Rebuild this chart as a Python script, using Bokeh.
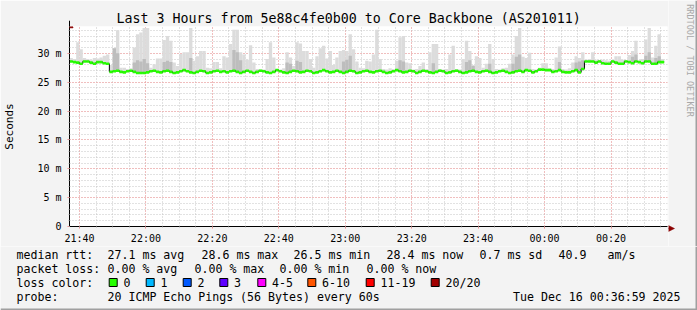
import math
from bokeh.plotting import figure
from bokeh.models import Range1d, FixedTicker, Arrow, NormalHead
from bokeh.layouts import column, row
from bokeh.embed import file_html
from bokeh.resources import INLINE
from bokeh.core.properties import value

# ---------------- data ----------------
title_text = "Last 3 Hours from 5e88c4fe0b00 to Core Backbone (AS201011)"
x_tick_labels = ["21:40", "22:00", "22:20", "22:40", "23:00", "23:20", "23:40", "00:00", "00:20"]
x_tick_minutes = [3, 23, 43, 63, 83, 103, 123, 143, 163]   # minutes after 21:37
y_tick_values = [0, 5, 10, 15, 20, 25, 30]
y_tick_labels = ["0", "5 m", "10 m", "15 m", "20 m", "25 m", "30 m"]

median_rtt = [
    28.6, 28.5, 28.4, 28.2, 28.6, 28.6, 28.4, 28.2, 28.5, 28.5, 28.3, 28.2,
    26.8, 26.9, 27.0, 26.8, 26.7, 26.9, 27.0, 26.8, 26.6, 26.6, 26.6, 26.7,
    26.9, 27.0, 26.8, 26.7, 26.9, 27.0, 26.8, 26.6, 26.7, 26.9, 27.1, 26.9,
    26.7, 26.6, 26.8, 27.0, 26.9, 26.6, 26.7, 26.9, 27.0, 26.8, 26.9, 26.7,
    26.9, 27.0, 26.8, 26.6, 26.8, 27.0, 26.8, 26.6, 26.8, 27.0, 26.9, 26.7,
    26.6, 26.8, 27.1, 26.9, 26.7, 26.6, 26.8, 27.0, 26.9, 26.7, 26.8, 27.0,
    26.9, 26.6, 26.7, 26.9, 27.1, 26.9, 26.7, 26.8, 27.0, 26.8, 26.6, 26.8,
    27.0, 26.9, 26.6, 26.7, 26.9, 27.0, 26.8, 26.7, 26.9, 27.0, 26.8, 26.6,
    26.7, 26.9, 27.1, 26.9, 26.7, 26.8, 27.0, 26.9, 26.6, 26.8, 27.0, 26.9,
    26.7, 26.6, 26.8, 27.0, 26.9, 26.6, 26.7, 26.9, 27.0, 26.8, 26.6, 26.7,
    26.9, 27.0, 26.8, 26.7, 26.9, 27.0, 26.8, 26.6, 26.7, 26.9, 27.0, 26.8,
    26.6, 26.7, 26.9, 27.0, 26.8, 27.1, 27.0, 26.7, 26.9, 27.2, 27.2, 27.1,
    27.1, 26.8, 26.9, 27.1, 26.8, 26.7, 26.7, 26.9, 27.1, 26.7, 27.3, 28.6,
    28.6, 28.6, 28.4, 28.6, 28.3, 28.2, 28.2, 28.6, 28.4, 28.2, 28.2, 28.6,
    28.5, 28.3, 28.6, 28.5, 28.3, 28.6, 28.6, 28.2, 28.2, 28.5, 28.5,
]

smoke_max = [
    29.2, 29.0, 31.9, 30.7, 29.2, 29.0, 28.9, 29.2, 29.1, 29.3, 29.6, 29.8,
    28.0, 30.9, 34.0, 27.5, 27.5, 27.3, 27.4, 31.0, 33.3, 33.6, 34.4, 34.4,
    27.5, 28.1, 29.1, 29.1, 32.3, 33.0, 32.2, 28.4, 27.8, 29.9, 30.2, 30.2,
    34.4, 28.7, 29.5, 30.4, 30.4, 27.5, 27.4, 28.5, 28.5, 27.4, 29.5, 29.3,
    31.6, 34.1, 34.1, 30.2, 29.8, 28.9, 31.4, 28.4, 27.3, 27.2, 27.2, 29.0,
    31.9, 29.3, 27.3, 27.2, 27.4, 30.2, 29.3, 27.8, 31.9, 31.7, 30.4, 30.4,
    29.0, 27.5, 29.5, 30.9, 31.3, 29.1, 30.4, 28.0, 29.3, 30.4, 30.6, 30.4,
    33.3, 30.7, 28.6, 27.5, 27.4, 28.7, 28.6, 29.8, 34.1, 29.0, 27.3, 27.2,
    27.4, 27.3, 28.7, 32.8, 33.0, 28.4, 28.3, 27.2, 27.3, 27.8, 28.4, 27.3,
    30.2, 31.6, 31.6, 27.3, 27.2, 27.3, 29.8, 31.3, 27.3, 27.2, 29.0, 32.2,
    30.4, 28.0, 29.5, 29.2, 27.5, 28.2, 31.6, 29.0, 27.3, 27.2, 27.4, 27.5,
    28.2, 29.8, 33.0, 34.4, 29.4, 29.2, 30.1, 27.3, 27.2, 27.5, 28.3, 28.3,
    27.4, 27.3, 29.3, 31.2, 27.3, 27.2, 27.4, 28.4, 29.5, 29.2, 30.2, 28.9,
    29.0, 30.2, 28.9, 28.8, 28.9, 28.8, 28.7, 28.8, 29.5, 29.5, 28.9, 28.8,
    29.7, 30.4, 32.2, 28.8, 29.0, 32.4, 34.4, 29.3, 31.3, 33.3, 29.0,
]

dense_idx = [13, 14, 19, 20, 21, 22, 23, 28, 29, 30, 36, 49, 50, 51, 65, 66, 68, 69,
             82, 83, 84, 99, 100, 109, 119, 120, 121, 126, 133, 134, 135, 147, 152,
             153, 154, 169, 170, 173, 174, 176, 177]
dense_top = [30.9, 30.0, 28.4, 28.8, 28.6, 29.0, 28.3, 28.5, 28.7, 28.5, 29.2, 30.6,
             30.2, 28.8, 28.4, 28.2, 28.7, 28.5, 28.6, 28.9, 29.6, 28.8, 28.6, 28.3,
             28.5, 28.8, 27.8, 28.2, 28.2, 29.4, 29.8, 28.5, 28.4, 28.6, 28.8, 29.4,
             29.8, 29.6, 30.2, 29.2, 29.5]

rtt_stats = ["27.1 ms avg", "28.6 ms max", "26.5 ms min", "28.4 ms now", "0.7 ms sd", "40.9", "am/s"]
loss_stats = ["0.00 % avg", "0.00 % max", "0.00 % min", "0.00 % now"]
loss_labels = ["0", "1", "2", "3", "4-5", "6-10", "11-19", "20/20"]
loss_colors = ["#26ff00", "#00b8ff", "#0059ff", "#5e00ff", "#ff00ff", "#ff5500", "#ff0000", "#a10000"]
probe_text = "20 ICMP Echo Pings (56 Bytes) every 60s"
date_text = "Tue Dec 16 00:36:59 2025"
watermark = "RRDTOOL / TOBI OETIKER"

# ---------------- layout constants ----------------
MONO = "DejaVu Sans Mono"
BG = "#f3f3f3"
EDGE = "#a0a0a0"
ARROW = "#8b0000"
W = 697            # full image width
W_MAIN = 668       # main plot width (frame ends at 667)
H_MAIN = 246       # main plot height (title 26 + frame 202 + axis 18)
H_LEG = 64         # legend strip height (incl. 2px bottom edge)
FRAME_L = 67
Y_TOP = 34.65


def strip(width, height):
    f = figure(width=width, height=height, x_range=Range1d(0, width), y_range=Range1d(height, 0),
               output_backend="svg", toolbar_location=None, min_border=0,
               x_axis_location=None, y_axis_location=None,
               background_fill_color=BG, border_fill_color=BG, outline_line_color=None)
    f.frame_align = False
    f.grid.visible = False
    return f


# ---------------- main plot ----------------
p = figure(width=W_MAIN, height=H_MAIN, x_range=Range1d(0, 180), y_range=Range1d(0, Y_TOP),
           output_backend="svg", toolbar_location=None,
           min_border_left=FRAME_L, min_border_right=W_MAIN - 667, min_border_top=26, min_border_bottom=18,
           background_fill_color="white", border_fill_color=BG, outline_line_color=None)
p.frame_align = False

p.title.text = title_text
p.title.text_font = MONO
p.title.text_font_size = "13.3px"
p.title.text_font_style = "normal"
p.title.text_color = "black"
p.title.align = "left"
p.title.offset = 47
p.title.standoff = 1

n = len(median_rtt)
idx = list(range(n))
left = idx
right = [i + 1 for i in idx]

# light smoke
p.quad(left=left, right=right, bottom=median_rtt, top=smoke_max,
       fill_color="#dcdcdc", line_color=None)
# denser smoke
p.quad(left=dense_idx, right=[i + 1 for i in dense_idx],
       bottom=[median_rtt[i] for i in dense_idx], top=dense_top,
       fill_color="#bdbdbd", line_color=None)

# median line (black step) + loss colour band
step_x = idx + [n]
step_y = median_rtt + [median_rtt[-1]]
p.step(step_x, step_y, mode="after", line_color="black", line_width=1)
p.quad(left=left, right=right, bottom=[m - 0.24 for m in median_rtt],
       top=[m + 0.22 for m in median_rtt], fill_color=loss_colors[0], line_color=None)

# axes
minor_x = [m for m in range(3, 180, 5)]
p.xaxis.ticker = FixedTicker(ticks=x_tick_minutes, minor_ticks=minor_x)
p.xaxis.major_label_overrides = {t: l for t, l in zip(x_tick_minutes, x_tick_labels)}
p.yaxis.ticker = FixedTicker(ticks=y_tick_values, minor_ticks=list(range(0, 35)))
p.yaxis.major_label_overrides = {t: l for t, l in zip(y_tick_values, y_tick_labels)}

for ax in (p.xaxis, p.yaxis):
    ax.axis_line_color = "black"
    ax.axis_line_width = 1
    ax.major_tick_in = 0
    ax.major_tick_out = 2
    ax.major_tick_line_color = "#ff8080"
    ax.minor_tick_in = 0
    ax.minor_tick_out = 1
    ax.minor_tick_line_color = "#b0b0b0"
    ax.major_label_text_font = MONO
    ax.major_label_text_font_size = "10px"
    ax.major_label_text_color = "black"
    ax.major_label_standoff = 4
p.yaxis.major_label_standoff = 6

p.yaxis.axis_label = "Seconds"
p.yaxis.axis_label_text_font = MONO
p.yaxis.axis_label_text_font_size = "11px"
p.yaxis.axis_label_text_font_style = "normal"
p.yaxis.axis_label_text_color = "black"
p.yaxis.axis_label_standoff = 18

for g in (p.xgrid, p.ygrid):
    g.grid_line_color = "#ff9a9a"
    g.grid_line_dash = "1 2"
    g.grid_line_width = 1
    g.minor_grid_line_color = "#c4c4c4"
    g.minor_grid_line_dash = "1 2"
    g.minor_grid_line_width = 1

# y-axis arrow head
p.add_layout(Arrow(end=NormalHead(size=7, fill_color=ARROW, line_color=ARROW),
                   x_start=0, y_start=Y_TOP, x_end=0, y_end=Y_TOP + 1.0, line_color="black"))

# ---------------- right strip: watermark + x-axis arrow head + right edge ----------------
W_R = W - W_MAIN
p3 = strip(W_R, H_MAIN)
p3.text(x=[689 - W_MAIN], y=[60], text=[watermark], angle=-math.pi / 2,
        text_font=value(MONO), text_font_size="8.5px", text_align="center",
        text_baseline="middle", text_color="#a8a8a8")
p3.segment(x0=[0], y0=[228], x1=[1], y1=[228], line_color="black", line_width=1)
p3.patch(x=[0, 6, 0], y=[225, 228, 231], fill_color=ARROW, line_color=ARROW, line_width=0.5)
p3.quad(left=[W_R - 2], right=[W_R], top=[0], bottom=[H_MAIN], fill_color=EDGE, line_color=None)

# ---------------- legend area ----------------
p2 = strip(W, H_LEG)

rows = [8, 22, 36, 50]
txt_x, txt_y, txt = [], [], []
for s, xx in zip(["median rtt:"] + rtt_stats, [16, 107, 201, 293, 386, 479, 558, 607]):
    txt_x.append(xx); txt_y.append(rows[0]); txt.append(s)
for s, xx in zip(["packet loss:"] + loss_stats, [16, 107, 194, 279, 366]):
    txt_x.append(xx); txt_y.append(rows[1]); txt.append(s)
sq_left = [108.7, 145.7, 182.7, 219.3, 257.3, 307.3, 365.7, 430.7]
txt_x.append(16); txt_y.append(rows[2]); txt.append("loss color:")
for s, xx in zip(loss_labels, sq_left):
    txt_x.append(xx + 14.3); txt_y.append(rows[2]); txt.append(s)
txt_x += [16, 107]; txt_y += [rows[3], rows[3]]; txt += ["probe:", probe_text]

p2.text(x=txt_x, y=txt_y, text=txt, text_font=value(MONO), text_font_size="11.6px",
        text_baseline="middle", text_align="left", text_color="black")
p2.text(x=[680], y=[rows[3]], text=[date_text], text_font=value(MONO), text_font_size="11.6px",
        text_baseline="middle", text_align="right", text_color="black")
p2.rect(x=[s + 4 for s in sq_left], y=[rows[2]] * len(sq_left), width=8, height=8,
        width_units="screen", height_units="screen",
        fill_color=loss_colors, line_color="black", line_width=1)
# bottom and right edges of the image frame
p2.quad(left=[0, W - 2], right=[W, W], top=[H_LEG - 2, 0], bottom=[H_LEG, H_LEG],
        fill_color=EDGE, line_color=None)

layout = column(row(p, p3, spacing=0), p2, spacing=0)

open("out.html", "w").write(file_html(layout, INLINE))
